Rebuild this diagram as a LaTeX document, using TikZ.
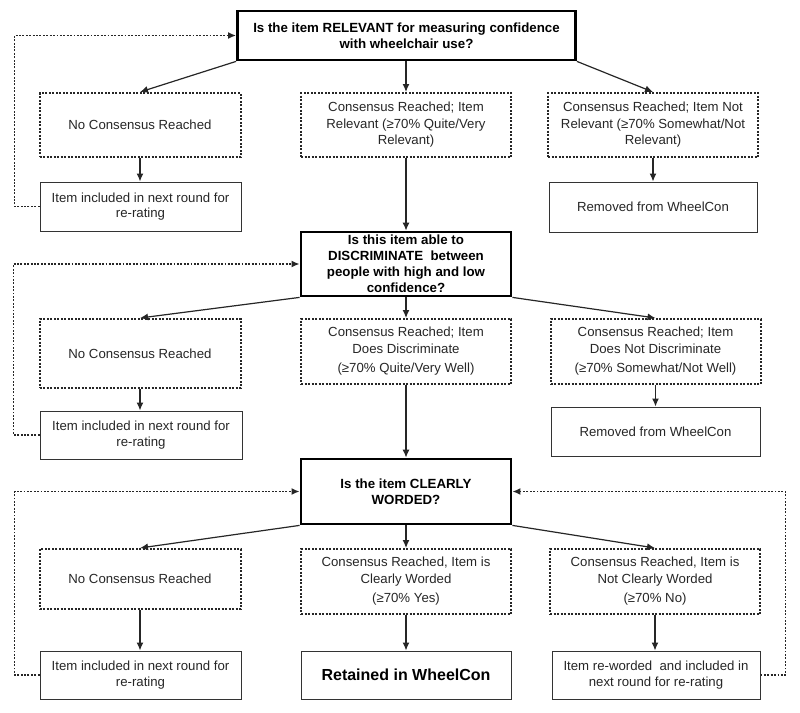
\documentclass[tikz,border=0pt]{standalone}
\usepackage{fontspec}
\setmainfont{Liberation Sans}
\usetikzlibrary{arrows.meta}
\begin{document}
\begin{tikzpicture}[x=1pt,y=-1pt,
  every node/.style={inner sep=0pt,align=center,text=black!85},
  qbox/.style={draw=black,line width=2.8pt,font=\bfseries\fontsize{13.3}{16}\selectfont,text=black},
  dotbox/.style={draw=black!85,line width=2pt,dash pattern=on 2pt off 1.5pt,font=\fontsize{13.2}{16.5}\selectfont},
  solidbox/.style={draw=black!80,line width=1pt,font=\fontsize{13.2}{15.5}\selectfont},
  arr/.style={draw=black!85,line width=1.2pt,-{Latex[length=8pt,width=7pt]}},
  back/.style={draw=black!85,line width=1.9pt,dash pattern=on 1.9pt off 1.5pt,-{Latex[length=8pt,width=7pt]}}
]
\useasboundingbox (0,0) rectangle (800,712);
% Row 1
\node[qbox,minimum width=338pt,minimum height=49pt] (Q1) at (406.5,35.5) {Is the item RELEVANT for measuring confidence\\with wheelchair use?};
\node[dotbox,minimum width=201pt,minimum height=64pt] (A1) at (140,125) {No Consensus Reached};
\node[dotbox,minimum width=210pt,minimum height=64pt] (B1) at (406,125) {Consensus Reached; Item\\Relevant (≥70\% Quite/Very\\Relevant)};
\node[dotbox,minimum width=210pt,minimum height=64pt] (C1) at (653,125) {Consensus Reached; Item Not\\Relevant (≥70\% Somewhat/Not\\Relevant)};
\node[solidbox,minimum width=201pt,minimum height=49pt] (D1) at (140.5,206.5) {Item included in next round for\\re-rating};
\node[solidbox,minimum width=208pt,minimum height=50pt] (E1) at (653,207) {Removed from WheelCon};
% Row 2
\node[qbox,minimum width=210pt,minimum height=64pt] (Q2) at (406,264) {Is this item able to\\DISCRIMINATE\ \ between\\people with high and low\\confidence?};
\node[dotbox,minimum width=201pt,minimum height=69pt] (A2) at (140,353.5) {No Consensus Reached};
\node[dotbox,minimum width=210pt,minimum height=65pt] (B2) at (406,351.5) {Consensus Reached; Item\\Does Discriminate\\[3pt](≥70\% Quite/Very Well)};
\node[dotbox,minimum width=210pt,minimum height=65pt] (C2) at (655.5,351.5) {Consensus Reached; Item\\Does Not Discriminate\\[3pt](≥70\% Somewhat/Not Well)};
\node[solidbox,minimum width=202pt,minimum height=48pt] (D2) at (141,435) {Item included in next round for\\re-rating};
\node[solidbox,minimum width=209pt,minimum height=49pt] (E2) at (655.5,431.5) {Removed from WheelCon};
% Row 3
\node[qbox,minimum width=210pt,minimum height=65pt] (Q3) at (406,491.5) {Is the item CLEARLY\\WORDED?};
\node[dotbox,minimum width=201pt,minimum height=60pt] (A3) at (140,579) {No Consensus Reached};
\node[dotbox,minimum width=210pt,minimum height=65pt] (B3) at (406,581.5) {Consensus Reached, Item is\\Clearly Worded\\[3pt](≥70\% Yes)};
\node[dotbox,minimum width=210pt,minimum height=65pt] (C3) at (655,581.5) {Consensus Reached, Item is\\Not Clearly Worded\\[3pt](≥70\% No)};
\node[solidbox,minimum width=201pt,minimum height=48pt] (D3) at (140.5,675) {Item included in next round for\\re-rating};
\node[solidbox,minimum width=210pt,minimum height=48pt,font=\bfseries\fontsize{16}{19}\selectfont,text=black] (F3) at (406,675) {Retained in WheelCon};
\node[solidbox,minimum width=208pt,minimum height=48pt] (E3) at (656,675) {Item re-worded\ \ and included in\\next round for re-rating};
% Arrows row 1
\draw[arr] (Q1.south west) -- (A1.north);
\draw[arr] (Q1.south -| B1.north) -- (B1.north);
\draw[arr] (Q1.south east) -- (C1.north);
\draw[arr] (A1.south) -- (A1.south |- D1.north);
\draw[arr] (C1.south) -- (E1.north);
\draw[arr] (B1.south) -- (Q2.north);
% Arrows row 2
\draw[arr] (Q2.south west) -- (A2.north);
\draw[arr] (Q2.south) -- (B2.north);
\draw[arr] (Q2.south east) -- (C2.north);
\draw[arr] (A2.south) -- (A2.south |- D2.north);
\draw[arr] (C2.south) -- (C2.south |- E2.north);
\draw[arr] (B2.south) -- (Q3.north);
% Arrows row 3
\draw[arr] (Q3.south west) -- (A3.north);
\draw[arr] (Q3.south) -- (B3.north);
\draw[arr] (Q3.south east) -- (C3.north);
\draw[arr] (A3.south) -- (A3.south |- D3.north);
\draw[arr] (B3.south) -- (F3.north);
\draw[arr] (C3.south) -- (C3.south |- E3.north);
% Feedback loops
\draw[back] (D1.west) -- ++(-25,0) |- (Q1.west);
\draw[back] (D2.west) -- ++(-26,0) |- (Q2.west);
\draw[back] (D3.west) -- ++(-25,0) |- (Q3.west);
\draw[back] (E3.east) -- ++(25,0) |- (Q3.east);
\end{tikzpicture}
\end{document}
